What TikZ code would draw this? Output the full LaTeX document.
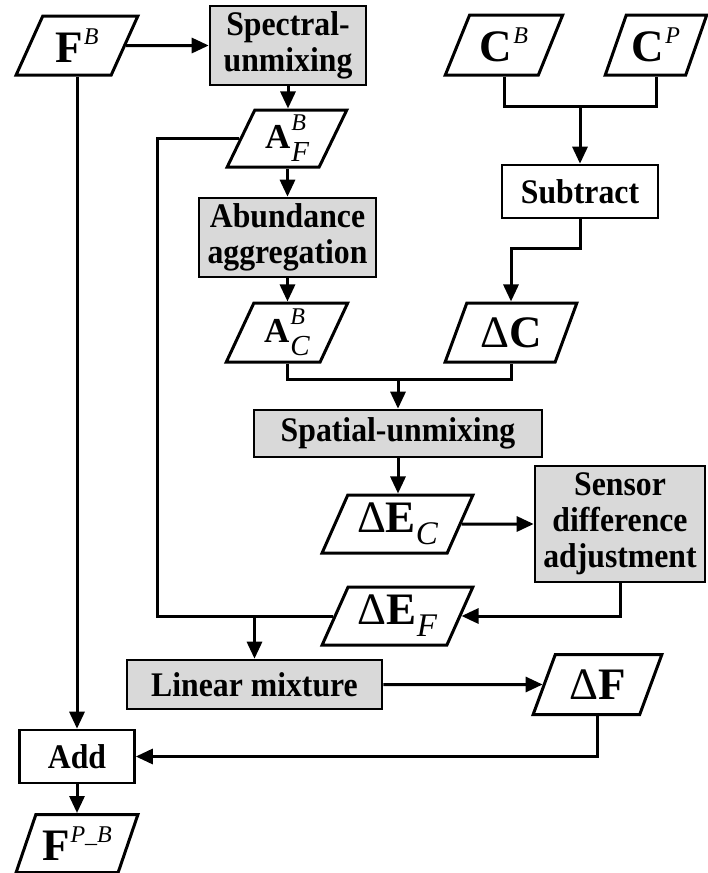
\documentclass[tikz,border=0pt]{standalone}
\usepackage{fontspec}
\setmainfont{Liberation Serif}
\newfontfamily\boxfont[FakeStretch=0.92]{Liberation Serif}
\usetikzlibrary{shapes.geometric,arrows.meta}
\definecolor{boxgray}{RGB}{217,217,217}
\newcommand{\bigbf}{\fontsize{45}{45}\selectfont\bfseries\upshape}
\newcommand{\bigrm}{\fontsize{45}{45}\selectfont\mdseries\upshape}
\newcommand{\supit}{\fontsize{24}{24}\selectfont\mdseries\itshape}
\newcommand{\subit}{\fontsize{33}{33}\selectfont\mdseries\itshape}
\newcommand{\abf}{\fontsize{35}{35}\selectfont\bfseries\upshape}
\newcommand{\asub}{\fontsize{29}{29}\selectfont\mdseries\itshape}
\begin{document}
\begin{tikzpicture}[x=1pt,y=-1pt,
  conn/.style={line width=3pt},
  arr/.style={conn,-{Triangle[length=17pt,width=15pt]}},
  procbox/.style={draw,line width=2.6pt,rectangle,inner sep=0pt,align=center,
    font=\boxfont\fontsize{34.5}{36}\selectfont\bfseries},
  greybox/.style={procbox,fill=boxgray},
  para/.style={trapezium,trapezium left angle=63.5,trapezium right angle=116.5,
    trapezium stretches=true,draw,line width=3pt,inner sep=0pt,fill=white},
  steep/.style={trapezium left angle=68,trapezium right angle=112},
]
\useasboundingbox (0,0) rectangle (707,873);

% nodes
\node[para,minimum width=122pt,minimum height=59pt] (fb) at (77,45.5)
  {\bigbf F\kern1pt\raisebox{18pt}{\supit B}};
\node[greybox,minimum width=156pt,minimum height=79pt] (spec) at (288,45.5)
  {Spectral-\\unmixing};
\node[para,steep,minimum width=120pt,minimum height=57pt] (apf) at (287,138.5)
  {\abf A\kern1pt\rlap{\raisebox{18pt}{\supit B}}\raisebox{-13pt}{\asub F}};
\node[greybox,minimum width=177pt,minimum height=79pt] (abund) at (287.5,237.5)
  {Abundance\\aggregation};
\node[para,steep,minimum width=122pt,minimum height=59pt] (abc) at (287,332.5)
  {\abf A\kern1pt\rlap{\raisebox{18pt}{\supit B}}\raisebox{-13pt}{\asub C}};
\node[para,minimum width=118pt,minimum height=60pt] (cb) at (504,45)
  {\bigbf C\kern1pt\raisebox{18pt}{\supit B}};
\node[para,minimum width=102pt,minimum height=60pt] (cp) at (656,45)
  {\bigbf C\kern1pt\raisebox{18pt}{\supit P}};
\node[procbox,minimum width=156pt,minimum height=53pt] (sub) at (580,191.5)
  {Subtract};
\node[para,minimum width=132pt,minimum height=59pt] (dc) at (511,332.5)
  {\bigrm Δ\bigbf C};
\node[greybox,minimum width=288pt,minimum height=47pt] (spatial) at (398,433.5)
  {Spatial-unmixing};
\node[para,minimum width=151pt,minimum height=58pt] (dec) at (397.5,524)
  {\bigrm Δ\bigbf E\raisebox{-12pt}{\subit C}};
\node[greybox,minimum width=170pt,minimum height=116pt] (sensor) at (620,524)
  {Sensor\\difference\\adjustment};
\node[para,minimum width=151pt,minimum height=58pt] (def) at (397.5,616)
  {\bigrm Δ\bigbf E\raisebox{-12pt}{\subit F}};
\node[greybox,minimum width=255pt,minimum height=49pt] (linear) at (254.5,684.5)
  {Linear mixture};
\node[para,minimum width=129pt,minimum height=60pt] (df) at (597.5,684.5)
  {\bigrm Δ\bigbf F};
\node[procbox,minimum width=115pt,minimum height=53pt] (add) at (77,756.5)
  {Add};
\node[para,minimum width=122pt,minimum height=58pt] (fpb) at (77,843.5)
  {\bigbf F\kern1pt\raisebox{18pt}{\supit P\textunderscore B}};

% connectors
\draw[arr] (fb.east) -- (spec.west);
\draw[arr] (spec.south) -- (spec.south |- apf.north);
\draw[arr] (abund.north |- apf.south) -- (abund.north);
\draw[arr] (abund.south) -- (abund.south |- abc.north);

\coordinate (j1) at (580,106);
\draw[conn] (cb.center |- cb.south) |- (j1) -| (cp.center |- cp.south);
\draw[arr] (j1) -- (sub.north);
\coordinate (j3) at (545,248);
\draw[arr] (sub.south) |- (j3) -| (dc.center |- dc.north);

\coordinate (j2) at (398,379);
\draw[conn] (abc.center |- abc.south) |- (j2) -| (dc.center |- dc.south);
\draw[arr] (j2) -- (spatial.north);
\draw[arr] (spatial.south) -- (spatial.south |- dec.north);
\draw[arr] (dec.east) -- (sensor.west);
\draw[arr] (sensor.south) |- (def.east);

\coordinate (lp) at (157,400);
\draw[conn] (apf.west) -| (lp) |- (def.west);
\draw[arr] (linear.north |- def.west) -- (linear.north);
\draw[arr] (linear.east) -- (df.west);
\draw[arr] (df.center |- df.south) |- (add.east);
\draw[arr] (fb.center |- fb.south) -- (add.north);
\draw[arr] (add.south) -- (add.south |- fpb.north);
\end{tikzpicture}
\end{document}
